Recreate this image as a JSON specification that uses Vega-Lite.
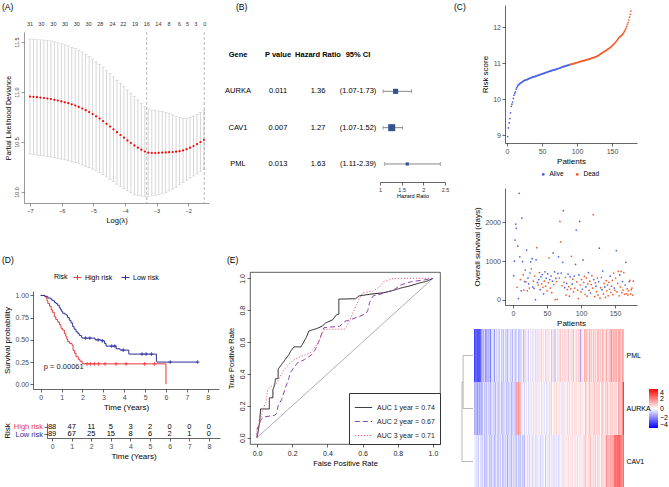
{
"$schema":"https://vega.github.io/schema/vega-lite/v6.json",
"background":"white",
"padding":{"left":2,"top":2,"right":0,"bottom":0},
"config":{
 "font":"Liberation Sans",
 "view":{"stroke":null},
 "title":{"fontSize":8.5,"fontWeight":"normal","anchor":"start","frame":"bounds","color":"black","font":"Liberation Sans"},
 "axis":{"grid":false,"domainColor":"black","domainWidth":0.6,"tickColor":"black","tickWidth":0.6,"tickSize":3,"labelColor":"#4d4d4d","labelFontSize":7,"titleFontSize":8,"titleFontWeight":"normal","titleColor":"black","labelPadding":1.5,"titlePadding":3,"labelFont":"Liberation Sans","titleFont":"Liberation Sans","labelOverlap":false},
 "legend":{"labelColor":"black","titleColor":"black","titleFontWeight":"normal","labelFont":"Liberation Sans","titleFont":"Liberation Sans"}
},
"datasets":{
"lasso":[
{"l":-7.00,"m":10.955,"lo":10.380,"hi":11.530},{"l":-6.89,"m":10.952,"lo":10.376,"hi":11.528},{"l":-6.78,"m":10.948,"lo":10.371,"hi":11.525},{"l":-6.67,"m":10.944,"lo":10.366,"hi":11.522},{"l":-6.56,"m":10.940,"lo":10.361,"hi":11.519},{"l":-6.45,"m":10.935,"lo":10.355,"hi":11.515},{"l":-6.34,"m":10.930,"lo":10.350,"hi":11.510},{"l":-6.23,"m":10.922,"lo":10.343,"hi":11.501},{"l":-6.12,"m":10.915,"lo":10.337,"hi":11.493},{"l":-6.01,"m":10.906,"lo":10.329,"hi":11.483},{"l":-5.90,"m":10.897,"lo":10.322,"hi":11.472},{"l":-5.79,"m":10.888,"lo":10.315,"hi":11.461},{"l":-5.68,"m":10.877,"lo":10.306,"hi":11.448},{"l":-5.57,"m":10.865,"lo":10.296,"hi":11.434},{"l":-5.46,"m":10.851,"lo":10.284,"hi":11.418},{"l":-5.35,"m":10.835,"lo":10.270,"hi":11.400},{"l":-5.24,"m":10.818,"lo":10.258,"hi":11.378},{"l":-5.13,"m":10.799,"lo":10.244,"hi":11.354},{"l":-5.02,"m":10.779,"lo":10.229,"hi":11.329},{"l":-4.91,"m":10.757,"lo":10.212,"hi":11.302},{"l":-4.80,"m":10.735,"lo":10.195,"hi":11.275},{"l":-4.69,"m":10.709,"lo":10.173,"hi":11.245},{"l":-4.58,"m":10.682,"lo":10.150,"hi":11.214},{"l":-4.47,"m":10.655,"lo":10.127,"hi":11.183},{"l":-4.36,"m":10.627,"lo":10.103,"hi":11.151},{"l":-4.25,"m":10.598,"lo":10.078,"hi":11.118},{"l":-4.14,"m":10.570,"lo":10.055,"hi":11.085},{"l":-4.03,"m":10.543,"lo":10.033,"hi":11.053},{"l":-3.92,"m":10.516,"lo":10.011,"hi":11.021},{"l":-3.81,"m":10.490,"lo":9.992,"hi":10.988},{"l":-3.70,"m":10.466,"lo":9.976,"hi":10.956},{"l":-3.59,"m":10.443,"lo":9.965,"hi":10.921},{"l":-3.48,"m":10.423,"lo":9.960,"hi":10.886},{"l":-3.37,"m":10.405,"lo":9.957,"hi":10.853},{"l":-3.26,"m":10.393,"lo":9.956,"hi":10.830},{"l":-3.15,"m":10.390,"lo":9.960,"hi":10.820},{"l":-3.04,"m":10.390,"lo":9.966,"hi":10.814},{"l":-2.93,"m":10.392,"lo":9.975,"hi":10.809},{"l":-2.82,"m":10.394,"lo":9.984,"hi":10.804},{"l":-2.71,"m":10.396,"lo":9.996,"hi":10.796},{"l":-2.60,"m":10.398,"lo":10.010,"hi":10.786},{"l":-2.49,"m":10.400,"lo":10.028,"hi":10.772},{"l":-2.38,"m":10.403,"lo":10.048,"hi":10.758},{"l":-2.27,"m":10.408,"lo":10.071,"hi":10.745},{"l":-2.16,"m":10.416,"lo":10.096,"hi":10.736},{"l":-2.05,"m":10.428,"lo":10.118,"hi":10.738},{"l":-1.94,"m":10.443,"lo":10.140,"hi":10.746},{"l":-1.83,"m":10.460,"lo":10.160,"hi":10.760},{"l":-1.72,"m":10.479,"lo":10.181,"hi":10.777},{"l":-1.61,"m":10.500,"lo":10.204,"hi":10.796},{"l":-1.50,"m":10.522,"lo":10.227,"hi":10.817}
],
"cnt":[
{"l":-7.00,"n":"31"},{"l":-6.64,"n":"30"},{"l":-6.26,"n":"30"},{"l":-5.89,"n":"30"},{"l":-5.52,"n":"30"},{"l":-5.15,"n":"30"},{"l":-4.78,"n":"28"},{"l":-4.39,"n":"24"},{"l":-4.05,"n":"22"},{"l":-3.68,"n":"19"},{"l":-3.31,"n":"16"},{"l":-2.94,"n":"14"},{"l":-2.60,"n":"8"},{"l":-2.28,"n":"6"},{"l":-2.02,"n":"5"},{"l":-1.76,"n":"3"},{"l":-1.47,"n":"0"}
],
"forest":[
{"Gene":"AURKA","P value":"0.011","Hazard Ratio":"1.36","95% CI":"(1.07-1.73)","hr":1.36,"lo":1.07,"hi":1.73,"w":66.5},
{"Gene":"CAV1","P value":"0.007","Hazard Ratio":"1.27","95% CI":"(1.07-1.52)","hr":1.27,"lo":1.07,"hi":1.52,"w":124.6},
{"Gene":"PML","P value":"0.013","Hazard Ratio":"1.63","95% CI":"(1.11-2.39)","hr":1.63,"lo":1.11,"hi":2.39,"w":26.1}
],
"km":[
{"g":"High risk","t":0,"S":1.0},{"g":"High risk","t":0.18,"S":0.99},{"g":"High risk","t":0.25,"S":0.97},{"g":"High risk","t":0.3,"S":0.94},{"g":"High risk","t":0.34,"S":0.91},{"g":"High risk","t":0.42,"S":0.88},{"g":"High risk","t":0.5,"S":0.84},{"g":"High risk","t":0.56,"S":0.81},{"g":"High risk","t":0.65,"S":0.76},{"g":"High risk","t":0.72,"S":0.73},{"g":"High risk","t":0.81,"S":0.7},{"g":"High risk","t":0.9,"S":0.67},{"g":"High risk","t":0.97,"S":0.63},{"g":"High risk","t":1.05,"S":0.61},{"g":"High risk","t":1.13,"S":0.57},{"g":"High risk","t":1.2,"S":0.54},{"g":"High risk","t":1.25,"S":0.51},{"g":"High risk","t":1.29,"S":0.48},{"g":"High risk","t":1.38,"S":0.46},{"g":"High risk","t":1.5,"S":0.44},{"g":"High risk","t":1.55,"S":0.38},{"g":"High risk","t":1.62,"S":0.35},{"g":"High risk","t":1.69,"S":0.31},{"g":"High risk","t":1.8,"S":0.28},{"g":"High risk","t":1.88,"S":0.26},{"g":"High risk","t":1.98,"S":0.24},{"g":"High risk","t":2.02,"S":0.23},{"g":"High risk","t":6.0,"S":0.0},
{"g":"Low risk","t":0,"S":1.0},{"g":"Low risk","t":0.2,"S":0.99},{"g":"Low risk","t":0.34,"S":0.97},{"g":"Low risk","t":0.5,"S":0.95},{"g":"Low risk","t":0.58,"S":0.94},{"g":"Low risk","t":0.66,"S":0.92},{"g":"Low risk","t":0.73,"S":0.91},{"g":"Low risk","t":0.8,"S":0.89},{"g":"Low risk","t":0.89,"S":0.86},{"g":"Low risk","t":0.95,"S":0.84},{"g":"Low risk","t":1.0,"S":0.82},{"g":"Low risk","t":1.05,"S":0.8},{"g":"Low risk","t":1.15,"S":0.79},{"g":"Low risk","t":1.21,"S":0.78},{"g":"Low risk","t":1.28,"S":0.75},{"g":"Low risk","t":1.37,"S":0.72},{"g":"Low risk","t":1.45,"S":0.69},{"g":"Low risk","t":1.53,"S":0.65},{"g":"Low risk","t":1.6,"S":0.62},{"g":"Low risk","t":1.69,"S":0.59},{"g":"Low risk","t":1.78,"S":0.57},{"g":"Low risk","t":1.85,"S":0.55},{"g":"Low risk","t":1.95,"S":0.53},{"g":"Low risk","t":1.98,"S":0.52},{"g":"Low risk","t":2.6,"S":0.5},{"g":"Low risk","t":2.9,"S":0.49},{"g":"Low risk","t":3.05,"S":0.46},{"g":"Low risk","t":3.13,"S":0.43},{"g":"Low risk","t":3.61,"S":0.4},{"g":"Low risk","t":3.8,"S":0.385},{"g":"Low risk","t":4.22,"S":0.34},{"g":"Low risk","t":5.54,"S":0.26},{"g":"Low risk","t":5.56,"S":0.25},{"g":"Low risk","t":7.52,"S":0.25}
],
"cens":[
{"g":"High risk","t":2.22,"S":0.23},{"g":"High risk","t":2.38,"S":0.23},{"g":"High risk","t":2.57,"S":0.23},{"g":"High risk","t":2.77,"S":0.23},{"g":"High risk","t":3.08,"S":0.23},{"g":"High risk","t":3.61,"S":0.23},{"g":"High risk","t":4.09,"S":0.23},{"g":"High risk","t":4.97,"S":0.23},{"g":"High risk","t":5.45,"S":0.23},
{"g":"Low risk","t":2.15,"S":0.52},{"g":"Low risk","t":2.35,"S":0.52},{"g":"Low risk","t":2.75,"S":0.5},{"g":"Low risk","t":2.95,"S":0.49},{"g":"Low risk","t":3.4,"S":0.43},{"g":"Low risk","t":3.55,"S":0.43},{"g":"Low risk","t":3.95,"S":0.385},{"g":"Low risk","t":4.85,"S":0.34},{"g":"Low risk","t":5.05,"S":0.34},{"g":"Low risk","t":5.3,"S":0.34},{"g":"Low risk","t":6.2,"S":0.25},{"g":"Low risk","t":7.52,"S":0.25}
],
"rtab":[
{"g":"High risk","t":0,"n":88},{"g":"High risk","t":1,"n":47},{"g":"High risk","t":2,"n":11},{"g":"High risk","t":3,"n":5},{"g":"High risk","t":4,"n":3},{"g":"High risk","t":5,"n":2},{"g":"High risk","t":6,"n":0},{"g":"High risk","t":7,"n":0},{"g":"High risk","t":8,"n":0},
{"g":"Low risk","t":0,"n":89},{"g":"Low risk","t":1,"n":67},{"g":"Low risk","t":2,"n":25},{"g":"Low risk","t":3,"n":15},{"g":"Low risk","t":4,"n":8},{"g":"Low risk","t":5,"n":6},{"g":"Low risk","t":6,"n":2},{"g":"Low risk","t":7,"n":1},{"g":"Low risk","t":8,"n":0}
],
"roc":[
{"c":"AUC 1 year = 0.74","fpr":0,"tpr":0},{"c":"AUC 1 year = 0.74","fpr":0.005,"tpr":0.03},{"c":"AUC 1 year = 0.74","fpr":0.015,"tpr":0.1},{"c":"AUC 1 year = 0.74","fpr":0.02,"tpr":0.18},{"c":"AUC 1 year = 0.74","fpr":0.07,"tpr":0.18},{"c":"AUC 1 year = 0.74","fpr":0.07,"tpr":0.25},{"c":"AUC 1 year = 0.74","fpr":0.09,"tpr":0.25},{"c":"AUC 1 year = 0.74","fpr":0.09,"tpr":0.3},{"c":"AUC 1 year = 0.74","fpr":0.1,"tpr":0.33},{"c":"AUC 1 year = 0.74","fpr":0.105,"tpr":0.37},{"c":"AUC 1 year = 0.74","fpr":0.12,"tpr":0.37},{"c":"AUC 1 year = 0.74","fpr":0.12,"tpr":0.43},{"c":"AUC 1 year = 0.74","fpr":0.14,"tpr":0.46},{"c":"AUC 1 year = 0.74","fpr":0.16,"tpr":0.49},{"c":"AUC 1 year = 0.74","fpr":0.18,"tpr":0.52},{"c":"AUC 1 year = 0.74","fpr":0.19,"tpr":0.54},{"c":"AUC 1 year = 0.74","fpr":0.21,"tpr":0.57},{"c":"AUC 1 year = 0.74","fpr":0.25,"tpr":0.57},{"c":"AUC 1 year = 0.74","fpr":0.265,"tpr":0.6},{"c":"AUC 1 year = 0.74","fpr":0.28,"tpr":0.63},{"c":"AUC 1 year = 0.74","fpr":0.295,"tpr":0.67},{"c":"AUC 1 year = 0.74","fpr":0.34,"tpr":0.685},{"c":"AUC 1 year = 0.74","fpr":0.37,"tpr":0.7},{"c":"AUC 1 year = 0.74","fpr":0.39,"tpr":0.72},{"c":"AUC 1 year = 0.74","fpr":0.43,"tpr":0.74},{"c":"AUC 1 year = 0.74","fpr":0.45,"tpr":0.77},{"c":"AUC 1 year = 0.74","fpr":0.465,"tpr":0.775},{"c":"AUC 1 year = 0.74","fpr":0.465,"tpr":0.87},{"c":"AUC 1 year = 0.74","fpr":0.56,"tpr":0.872},{"c":"AUC 1 year = 0.74","fpr":0.58,"tpr":0.89},{"c":"AUC 1 year = 0.74","fpr":0.64,"tpr":0.9},{"c":"AUC 1 year = 0.74","fpr":0.72,"tpr":0.91},{"c":"AUC 1 year = 0.74","fpr":0.76,"tpr":0.92},{"c":"AUC 1 year = 0.74","fpr":0.82,"tpr":0.94},{"c":"AUC 1 year = 0.74","fpr":0.86,"tpr":0.95},{"c":"AUC 1 year = 0.74","fpr":0.92,"tpr":0.97},{"c":"AUC 1 year = 0.74","fpr":0.96,"tpr":0.98},{"c":"AUC 1 year = 0.74","fpr":1,"tpr":1},
{"c":"AUC 2 year = 0.67","fpr":0,"tpr":0},{"c":"AUC 2 year = 0.67","fpr":0,"tpr":0.05},{"c":"AUC 2 year = 0.67","fpr":0.01,"tpr":0.08},{"c":"AUC 2 year = 0.67","fpr":0.02,"tpr":0.11},{"c":"AUC 2 year = 0.67","fpr":0.04,"tpr":0.13},{"c":"AUC 2 year = 0.67","fpr":0.1,"tpr":0.14},{"c":"AUC 2 year = 0.67","fpr":0.11,"tpr":0.15},{"c":"AUC 2 year = 0.67","fpr":0.12,"tpr":0.2},{"c":"AUC 2 year = 0.67","fpr":0.14,"tpr":0.24},{"c":"AUC 2 year = 0.67","fpr":0.16,"tpr":0.31},{"c":"AUC 2 year = 0.67","fpr":0.18,"tpr":0.37},{"c":"AUC 2 year = 0.67","fpr":0.19,"tpr":0.41},{"c":"AUC 2 year = 0.67","fpr":0.21,"tpr":0.44},{"c":"AUC 2 year = 0.67","fpr":0.23,"tpr":0.47},{"c":"AUC 2 year = 0.67","fpr":0.27,"tpr":0.49},{"c":"AUC 2 year = 0.67","fpr":0.31,"tpr":0.52},{"c":"AUC 2 year = 0.67","fpr":0.33,"tpr":0.55},{"c":"AUC 2 year = 0.67","fpr":0.35,"tpr":0.6},{"c":"AUC 2 year = 0.67","fpr":0.37,"tpr":0.66},{"c":"AUC 2 year = 0.67","fpr":0.38,"tpr":0.69},{"c":"AUC 2 year = 0.67","fpr":0.47,"tpr":0.7},{"c":"AUC 2 year = 0.67","fpr":0.5,"tpr":0.73},{"c":"AUC 2 year = 0.67","fpr":0.53,"tpr":0.74},{"c":"AUC 2 year = 0.67","fpr":0.58,"tpr":0.76},{"c":"AUC 2 year = 0.67","fpr":0.62,"tpr":0.78},{"c":"AUC 2 year = 0.67","fpr":0.63,"tpr":0.8},{"c":"AUC 2 year = 0.67","fpr":0.64,"tpr":0.85},{"c":"AUC 2 year = 0.67","fpr":0.66,"tpr":0.89},{"c":"AUC 2 year = 0.67","fpr":0.7,"tpr":0.9},{"c":"AUC 2 year = 0.67","fpr":0.78,"tpr":0.93},{"c":"AUC 2 year = 0.67","fpr":0.82,"tpr":0.96},{"c":"AUC 2 year = 0.67","fpr":0.88,"tpr":0.98},{"c":"AUC 2 year = 0.67","fpr":0.95,"tpr":0.99},{"c":"AUC 2 year = 0.67","fpr":1,"tpr":1},
{"c":"AUC 3 year = 0.71","fpr":0,"tpr":0},{"c":"AUC 3 year = 0.71","fpr":0,"tpr":0.06},{"c":"AUC 3 year = 0.71","fpr":0.02,"tpr":0.1},{"c":"AUC 3 year = 0.71","fpr":0.03,"tpr":0.17},{"c":"AUC 3 year = 0.71","fpr":0.05,"tpr":0.22},{"c":"AUC 3 year = 0.71","fpr":0.06,"tpr":0.3},{"c":"AUC 3 year = 0.71","fpr":0.08,"tpr":0.32},{"c":"AUC 3 year = 0.71","fpr":0.11,"tpr":0.34},{"c":"AUC 3 year = 0.71","fpr":0.13,"tpr":0.38},{"c":"AUC 3 year = 0.71","fpr":0.15,"tpr":0.42},{"c":"AUC 3 year = 0.71","fpr":0.18,"tpr":0.46},{"c":"AUC 3 year = 0.71","fpr":0.21,"tpr":0.49},{"c":"AUC 3 year = 0.71","fpr":0.25,"tpr":0.51},{"c":"AUC 3 year = 0.71","fpr":0.3,"tpr":0.53},{"c":"AUC 3 year = 0.71","fpr":0.33,"tpr":0.57},{"c":"AUC 3 year = 0.71","fpr":0.35,"tpr":0.6},{"c":"AUC 3 year = 0.71","fpr":0.37,"tpr":0.65},{"c":"AUC 3 year = 0.71","fpr":0.38,"tpr":0.68},{"c":"AUC 3 year = 0.71","fpr":0.5,"tpr":0.681},{"c":"AUC 3 year = 0.71","fpr":0.52,"tpr":0.72},{"c":"AUC 3 year = 0.71","fpr":0.54,"tpr":0.77},{"c":"AUC 3 year = 0.71","fpr":0.56,"tpr":0.82},{"c":"AUC 3 year = 0.71","fpr":0.58,"tpr":0.87},{"c":"AUC 3 year = 0.71","fpr":0.6,"tpr":0.91},{"c":"AUC 3 year = 0.71","fpr":0.66,"tpr":0.92},{"c":"AUC 3 year = 0.71","fpr":0.7,"tpr":0.95},{"c":"AUC 3 year = 0.71","fpr":0.72,"tpr":0.98},{"c":"AUC 3 year = 0.71","fpr":0.78,"tpr":1},{"c":"AUC 3 year = 0.71","fpr":1,"tpr":1.001}
],
"dend":[
{"a":0,"b":0.9,"c":0.5,"d":0.5},{"a":0,"b":0.9,"c":1.5,"d":1.5},{"a":0.9,"b":0.9,"c":0.5,"d":1.5},{"a":0.9,"b":1,"c":1,"d":1},{"a":0,"b":1,"c":2.5,"d":2.5},{"a":1,"b":1,"c":1,"d":2.5}
],
"pt":[
{"i":1,"r":8.96,"k":"L","t":620,"s":"Alive","PML":-3.5,"AURKA":-1.5,"CAV1":-0.1},
{"i":2,"r":9.2,"k":"L","t":1000,"s":"Alive","PML":-3.0,"AURKA":-1.0,"CAV1":-0.7},
{"i":3,"r":9.34,"k":"L","t":1540,"s":"Alive","PML":-3.4,"AURKA":-1.9,"CAV1":0.1},
{"i":4,"r":9.46,"k":"L","t":1955,"s":"Alive","PML":-3.1,"AURKA":-1.4,"CAV1":-1.0},
{"i":5,"r":9.62,"k":"L","t":1845,"s":"Alive","PML":-3.7,"AURKA":-2.2,"CAV1":-0.4},
{"i":6,"r":9.8,"k":"L","t":320,"s":"Dead","PML":-3.3,"AURKA":-1.1,"CAV1":-1.1},
{"i":7,"r":9.86,"k":"L","t":1386,"s":"Alive","PML":-3.0,"AURKA":-1.7,"CAV1":0.0},
{"i":8,"r":9.92,"k":"L","t":30,"s":"Alive","PML":-3.5,"AURKA":-0.9,"CAV1":-0.8},
{"i":9,"r":10.02,"k":"L","t":2750,"s":"Alive","PML":-1.4,"AURKA":-2.0,"CAV1":-0.2},
{"i":10,"r":10.11,"k":"L","t":1109,"s":"Alive","PML":-2.3,"AURKA":-1.4,"CAV1":-1.3},
{"i":11,"r":10.16,"k":"L","t":520,"s":"Dead","PML":-1.0,"AURKA":-1.4,"CAV1":-0.8},
{"i":12,"r":10.2,"k":"L","t":230,"s":"Alive","PML":-1.7,"AURKA":-0.3,"CAV1":-0.3},
{"i":13,"r":10.28,"k":"L","t":2110,"s":"Alive","PML":-0.7,"AURKA":-1.1,"CAV1":-1.2},
{"i":14,"r":10.32,"k":"L","t":983,"s":"Alive","PML":-2.1,"AURKA":-0.5,"CAV1":-0.7},
{"i":15,"r":10.36,"k":"L","t":640,"s":"Dead","PML":-1.3,"AURKA":-1.6,"CAV1":-1.5},
{"i":16,"r":10.39,"k":"L","t":250,"s":"Dead","PML":-2.2,"AURKA":-0.8,"CAV1":-0.4},
{"i":17,"r":10.41,"k":"L","t":470,"s":"Alive","PML":-0.8,"AURKA":-0.3,"CAV1":-1.0},
{"i":18,"r":10.43,"k":"L","t":767,"s":"Alive","PML":-1.8,"AURKA":-1.2,"CAV1":-0.2},
{"i":19,"r":10.44,"k":"L","t":460,"s":"Dead","PML":-1.1,"AURKA":-0.7,"CAV1":-1.3},
{"i":20,"r":10.46,"k":"L","t":1282,"s":"Alive","PML":-2.5,"AURKA":-1.5,"CAV1":-0.7},
{"i":21,"r":10.47,"k":"L","t":230,"s":"Dead","PML":-0.7,"AURKA":-0.4,"CAV1":-1.4},
{"i":22,"r":10.48,"k":"L","t":560,"s":"Alive","PML":-0.1,"AURKA":-1.0,"CAV1":-0.3},
{"i":23,"r":10.5,"k":"L","t":410,"s":"Alive","PML":-1.2,"AURKA":-0.2,"CAV1":-1.1},
{"i":24,"r":10.51,"k":"L","t":300,"s":"Dead","PML":-0.6,"AURKA":-1.3,"CAV1":-0.5},
{"i":25,"r":10.52,"k":"L","t":690,"s":"Alive","PML":-2.4,"AURKA":-0.7,"CAV1":-1.6},
{"i":26,"r":10.53,"k":"L","t":980,"s":"Alive","PML":-0.2,"AURKA":-1.4,"CAV1":-0.8},
{"i":27,"r":10.53,"k":"L","t":800,"s":"Dead","PML":-0.9,"AURKA":-0.3,"CAV1":-0.3},
{"i":28,"r":10.54,"k":"L","t":1060,"s":"Alive","PML":0.1,"AURKA":-1.1,"CAV1":-1.2},
{"i":29,"r":10.55,"k":"L","t":330,"s":"Alive","PML":-1.3,"AURKA":-0.5,"CAV1":-0.7},
{"i":30,"r":10.56,"k":"L","t":480,"s":"Dead","PML":-0.5,"AURKA":-1.6,"CAV1":-1.5},
{"i":31,"r":10.57,"k":"L","t":290,"s":"Alive","PML":-1.4,"AURKA":-0.8,"CAV1":-0.4},
{"i":32,"r":10.58,"k":"L","t":610,"s":"Dead","PML":0.0,"AURKA":-0.3,"CAV1":-1.0},
{"i":33,"r":10.58,"k":"L","t":0,"s":"Alive","PML":-1.0,"AURKA":-1.2,"CAV1":-0.2},
{"i":34,"r":10.59,"k":"L","t":1030,"s":"Alive","PML":-0.3,"AURKA":-0.7,"CAV1":-1.3},
{"i":35,"r":10.6,"k":"L","t":1345,"s":"Dead","PML":-1.7,"AURKA":-1.5,"CAV1":-0.7},
{"i":36,"r":10.61,"k":"L","t":440,"s":"Alive","PML":-0.7,"AURKA":-0.4,"CAV1":-1.4},
{"i":37,"r":10.61,"k":"L","t":380,"s":"Dead","PML":-0.1,"AURKA":-1.0,"CAV1":-0.3},
{"i":38,"r":10.62,"k":"L","t":520,"s":"Alive","PML":-1.2,"AURKA":-0.2,"CAV1":-1.1},
{"i":39,"r":10.63,"k":"L","t":700,"s":"Dead","PML":-0.6,"AURKA":-1.3,"CAV1":-0.5},
{"i":40,"r":10.63,"k":"L","t":260,"s":"Alive","PML":-1.5,"AURKA":-0.7,"CAV1":-1.6},
{"i":41,"r":10.64,"k":"L","t":590,"s":"Alive","PML":-0.2,"AURKA":-1.4,"CAV1":-0.8},
{"i":42,"r":10.65,"k":"L","t":410,"s":"Dead","PML":-0.9,"AURKA":-0.3,"CAV1":-0.3},
{"i":43,"r":10.65,"k":"L","t":650,"s":"Alive","PML":0.1,"AURKA":-1.1,"CAV1":-1.2},
{"i":44,"r":10.66,"k":"L","t":320,"s":"Dead","PML":-1.3,"AURKA":-0.5,"CAV1":-0.7},
{"i":45,"r":10.67,"k":"L","t":150,"s":"Alive","PML":-0.5,"AURKA":-1.6,"CAV1":-1.5},
{"i":46,"r":10.67,"k":"L","t":480,"s":"Dead","PML":-1.4,"AURKA":-0.8,"CAV1":-0.4},
{"i":47,"r":10.68,"k":"L","t":720,"s":"Alive","PML":0.0,"AURKA":-0.3,"CAV1":-1.0},
{"i":48,"r":10.69,"k":"L","t":350,"s":"Dead","PML":-1.0,"AURKA":-1.2,"CAV1":-0.2},
{"i":49,"r":10.7,"k":"L","t":560,"s":"Alive","PML":-0.3,"AURKA":-0.7,"CAV1":-1.3},
{"i":50,"r":10.7,"k":"L","t":230,"s":"Dead","PML":-1.7,"AURKA":-1.5,"CAV1":-0.7},
{"i":51,"r":10.71,"k":"L","t":670,"s":"Alive","PML":-0.7,"AURKA":2.0,"CAV1":-1.4},
{"i":52,"r":10.72,"k":"L","t":440,"s":"Dead","PML":-0.1,"AURKA":1.4,"CAV1":-0.3},
{"i":53,"r":10.72,"k":"L","t":1077,"s":"Dead","PML":-1.2,"AURKA":2.2,"CAV1":-1.1},
{"i":54,"r":10.73,"k":"L","t":520,"s":"Alive","PML":-0.6,"AURKA":1.1,"CAV1":-0.5},
{"i":55,"r":10.74,"k":"L","t":300,"s":"Dead","PML":-1.5,"AURKA":1.7,"CAV1":-1.6},
{"i":56,"r":10.74,"k":"L","t":610,"s":"Alive","PML":-0.2,"AURKA":1.0,"CAV1":-0.8},
{"i":57,"r":10.75,"k":"L","t":180,"s":"Dead","PML":-0.9,"AURKA":0.4,"CAV1":-0.3},
{"i":58,"r":10.76,"k":"L","t":480,"s":"Alive","PML":0.1,"AURKA":-0.4,"CAV1":-1.2},
{"i":59,"r":10.76,"k":"L","t":1210,"s":"Alive","PML":-1.3,"AURKA":0.2,"CAV1":-0.7},
{"i":60,"r":10.77,"k":"L","t":390,"s":"Dead","PML":-0.5,"AURKA":-0.9,"CAV1":-1.5},
{"i":61,"r":10.78,"k":"L","t":720,"s":"Alive","PML":-0.7,"AURKA":-0.1,"CAV1":0.1},
{"i":62,"r":10.78,"k":"L","t":0,"s":"Dead","PML":0.7,"AURKA":0.4,"CAV1":-0.5},
{"i":63,"r":10.79,"k":"L","t":550,"s":"Alive","PML":-0.3,"AURKA":-0.5,"CAV1":0.3},
{"i":64,"r":10.8,"k":"L","t":470,"s":"Dead","PML":0.4,"AURKA":0.0,"CAV1":-0.8},
{"i":65,"r":10.8,"k":"L","t":10,"s":"Dead","PML":-1.0,"AURKA":-0.8,"CAV1":-0.2},
{"i":66,"r":10.81,"k":"L","t":680,"s":"Alive","PML":0.0,"AURKA":0.3,"CAV1":-0.9},
{"i":67,"r":10.81,"k":"L","t":1109,"s":"Alive","PML":0.6,"AURKA":-0.3,"CAV1":0.2},
{"i":68,"r":10.82,"k":"L","t":560,"s":"Dead","PML":-0.5,"AURKA":0.5,"CAV1":-0.6},
{"i":69,"r":10.82,"k":"L","t":2024,"s":"Dead","PML":0.1,"AURKA":-0.6,"CAV1":0.0},
{"i":70,"r":10.83,"k":"L","t":1494,"s":"Dead","PML":-0.8,"AURKA":0.0,"CAV1":-1.1},
{"i":71,"r":10.84,"k":"L","t":690,"s":"Alive","PML":0.5,"AURKA":-0.7,"CAV1":-0.3},
{"i":72,"r":10.84,"k":"L","t":360,"s":"Dead","PML":-0.2,"AURKA":0.4,"CAV1":0.2},
{"i":73,"r":10.85,"k":"L","t":966,"s":"Alive","PML":0.8,"AURKA":-0.4,"CAV1":-0.7},
{"i":74,"r":10.86,"k":"L","t":2300,"s":"Alive","PML":-0.6,"AURKA":0.2,"CAV1":-0.2},
{"i":75,"r":10.86,"k":"L","t":450,"s":"Dead","PML":0.2,"AURKA":-0.9,"CAV1":-1.0},
{"i":76,"r":10.87,"k":"L","t":310,"s":"Alive","PML":-0.7,"AURKA":-0.1,"CAV1":0.1},
{"i":77,"r":10.88,"k":"L","t":580,"s":"Dead","PML":0.7,"AURKA":0.4,"CAV1":-0.5},
{"i":78,"r":10.89,"k":"L","t":120,"s":"Dead","PML":-0.3,"AURKA":-0.5,"CAV1":0.3},
{"i":79,"r":10.89,"k":"L","t":420,"s":"Alive","PML":0.4,"AURKA":0.0,"CAV1":-0.8},
{"i":80,"r":10.9,"k":"L","t":260,"s":"Dead","PML":-1.0,"AURKA":-0.8,"CAV1":-0.2},
{"i":81,"r":10.91,"k":"L","t":660,"s":"Alive","PML":0.0,"AURKA":0.3,"CAV1":-0.9},
{"i":82,"r":10.91,"k":"L","t":340,"s":"Dead","PML":0.6,"AURKA":-0.3,"CAV1":0.2},
{"i":83,"r":10.92,"k":"L","t":90,"s":"Dead","PML":-0.5,"AURKA":0.5,"CAV1":-0.6},
{"i":84,"r":10.92,"k":"L","t":590,"s":"Alive","PML":0.1,"AURKA":-0.6,"CAV1":0.0},
{"i":85,"r":10.93,"k":"L","t":280,"s":"Dead","PML":-0.8,"AURKA":0.0,"CAV1":-1.1},
{"i":86,"r":10.94,"k":"L","t":1120,"s":"Dead","PML":0.5,"AURKA":-0.7,"CAV1":-0.3},
{"i":87,"r":10.94,"k":"L","t":400,"s":"Alive","PML":-0.2,"AURKA":0.4,"CAV1":0.2},
{"i":88,"r":10.95,"k":"L","t":530,"s":"Dead","PML":0.8,"AURKA":-0.4,"CAV1":-0.7},
{"i":89,"r":10.96,"k":"L","t":200,"s":"Dead","PML":-0.6,"AURKA":0.2,"CAV1":-0.2},
{"i":90,"r":10.96,"k":"H","t":610,"s":"Alive","PML":0.2,"AURKA":-0.9,"CAV1":-1.0},
{"i":91,"r":10.97,"k":"H","t":300,"s":"Dead","PML":-0.1,"AURKA":0.4,"CAV1":0.1},
{"i":92,"r":10.97,"k":"H","t":912,"s":"Alive","PML":1.3,"AURKA":0.9,"CAV1":-0.5},
{"i":93,"r":10.98,"k":"H","t":1800,"s":"Alive","PML":0.3,"AURKA":0.0,"CAV1":0.3},
{"i":94,"r":10.98,"k":"H","t":460,"s":"Dead","PML":1.0,"AURKA":0.5,"CAV1":-0.8},
{"i":95,"r":10.99,"k":"H","t":250,"s":"Dead","PML":-0.4,"AURKA":-0.3,"CAV1":-0.2},
{"i":96,"r":10.99,"k":"H","t":30,"s":"Dead","PML":-1.2,"AURKA":0.8,"CAV1":-0.9},
{"i":97,"r":11.0,"k":"H","t":640,"s":"Alive","PML":1.2,"AURKA":0.2,"CAV1":0.2},
{"i":98,"r":11.01,"k":"H","t":2024,"s":"Alive","PML":0.1,"AURKA":1.0,"CAV1":-0.6},
{"i":99,"r":11.01,"k":"H","t":380,"s":"Dead","PML":0.7,"AURKA":-0.1,"CAV1":0.0},
{"i":100,"r":11.02,"k":"H","t":200,"s":"Dead","PML":-0.2,"AURKA":0.5,"CAV1":-1.1},
{"i":101,"r":11.02,"k":"H","t":520,"s":"Dead","PML":1.1,"AURKA":-0.2,"CAV1":0.3},
{"i":102,"r":11.03,"k":"H","t":270,"s":"Alive","PML":0.4,"AURKA":0.9,"CAV1":0.8},
{"i":103,"r":11.04,"k":"H","t":1024,"s":"Alive","PML":1.4,"AURKA":0.1,"CAV1":-0.1},
{"i":104,"r":11.04,"k":"H","t":450,"s":"Dead","PML":0.0,"AURKA":0.7,"CAV1":0.4},
{"i":105,"r":11.05,"k":"H","t":600,"s":"Dead","PML":0.8,"AURKA":-0.4,"CAV1":-0.4},
{"i":106,"r":11.05,"k":"H","t":140,"s":"Dead","PML":-0.1,"AURKA":0.4,"CAV1":0.7},
{"i":107,"r":11.06,"k":"H","t":330,"s":"Alive","PML":1.3,"AURKA":0.9,"CAV1":0.1},
{"i":108,"r":11.06,"k":"H","t":560,"s":"Dead","PML":0.3,"AURKA":0.0,"CAV1":0.9},
{"i":109,"r":11.07,"k":"H","t":90,"s":"Dead","PML":1.0,"AURKA":0.5,"CAV1":-0.2},
{"i":110,"r":11.07,"k":"H","t":410,"s":"Dead","PML":-0.4,"AURKA":-0.3,"CAV1":0.4},
{"i":111,"r":11.08,"k":"H","t":700,"s":"Alive","PML":0.6,"AURKA":0.8,"CAV1":-0.3},
{"i":112,"r":11.08,"k":"H","t":240,"s":"Dead","PML":1.2,"AURKA":0.2,"CAV1":0.8},
{"i":113,"r":11.09,"k":"H","t":480,"s":"Dead","PML":0.1,"AURKA":1.0,"CAV1":0.0},
{"i":114,"r":11.1,"k":"H","t":170,"s":"Alive","PML":0.7,"AURKA":-0.1,"CAV1":0.6},
{"i":115,"r":11.1,"k":"H","t":390,"s":"Dead","PML":-0.2,"AURKA":0.5,"CAV1":-0.5},
{"i":116,"r":11.11,"k":"H","t":620,"s":"Dead","PML":1.1,"AURKA":-0.2,"CAV1":0.3},
{"i":117,"r":11.11,"k":"H","t":300,"s":"Dead","PML":0.4,"AURKA":0.9,"CAV1":0.8},
{"i":118,"r":11.12,"k":"H","t":2196,"s":"Dead","PML":1.4,"AURKA":0.1,"CAV1":-0.1},
{"i":119,"r":11.13,"k":"H","t":520,"s":"Alive","PML":0.0,"AURKA":0.7,"CAV1":0.4},
{"i":120,"r":11.13,"k":"H","t":80,"s":"Dead","PML":0.8,"AURKA":-0.4,"CAV1":-0.4},
{"i":121,"r":11.14,"k":"H","t":440,"s":"Dead","PML":-0.1,"AURKA":0.4,"CAV1":0.7},
{"i":122,"r":11.15,"k":"H","t":350,"s":"Alive","PML":1.3,"AURKA":0.9,"CAV1":0.1},
{"i":123,"r":11.15,"k":"H","t":210,"s":"Dead","PML":0.3,"AURKA":0.0,"CAV1":0.9},
{"i":124,"r":11.16,"k":"H","t":560,"s":"Dead","PML":1.0,"AURKA":0.5,"CAV1":-0.2},
{"i":125,"r":11.16,"k":"H","t":120,"s":"Dead","PML":-0.4,"AURKA":-0.3,"CAV1":0.4},
{"i":126,"r":11.17,"k":"H","t":470,"s":"Alive","PML":-2.0,"AURKA":0.8,"CAV1":-0.3},
{"i":127,"r":11.18,"k":"H","t":1331,"s":"Alive","PML":1.2,"AURKA":0.2,"CAV1":0.8},
{"i":128,"r":11.19,"k":"H","t":40,"s":"Dead","PML":0.1,"AURKA":1.0,"CAV1":0.0},
{"i":129,"r":11.2,"k":"H","t":310,"s":"Dead","PML":0.7,"AURKA":-0.1,"CAV1":0.6},
{"i":130,"r":11.21,"k":"H","t":580,"s":"Dead","PML":-0.2,"AURKA":0.5,"CAV1":-0.5},
{"i":131,"r":11.22,"k":"H","t":260,"s":"Alive","PML":1.5,"AURKA":0.2,"CAV1":0.7},
{"i":132,"r":11.23,"k":"H","t":740,"s":"Alive","PML":0.8,"AURKA":1.3,"CAV1":1.2},
{"i":133,"r":11.25,"k":"H","t":150,"s":"Dead","PML":1.8,"AURKA":0.5,"CAV1":0.3},
{"i":134,"r":11.26,"k":"H","t":420,"s":"Dead","PML":0.4,"AURKA":1.1,"CAV1":0.8},
{"i":135,"r":11.28,"k":"H","t":330,"s":"Alive","PML":1.2,"AURKA":0.0,"CAV1":0.0},
{"i":136,"r":11.29,"k":"H","t":60,"s":"Dead","PML":0.3,"AURKA":0.8,"CAV1":1.1},
{"i":137,"r":11.3,"k":"H","t":490,"s":"Dead","PML":1.7,"AURKA":1.3,"CAV1":0.5},
{"i":138,"r":11.31,"k":"H","t":230,"s":"Dead","PML":0.7,"AURKA":0.4,"CAV1":1.3},
{"i":139,"r":11.33,"k":"H","t":380,"s":"Alive","PML":1.4,"AURKA":0.9,"CAV1":0.2},
{"i":140,"r":11.34,"k":"H","t":100,"s":"Dead","PML":0.0,"AURKA":0.1,"CAV1":0.8},
{"i":141,"r":11.35,"k":"H","t":450,"s":"Dead","PML":1.0,"AURKA":1.2,"CAV1":0.1},
{"i":142,"r":11.36,"k":"H","t":270,"s":"Dead","PML":1.6,"AURKA":0.6,"CAV1":1.2},
{"i":143,"r":11.38,"k":"H","t":610,"s":"Alive","PML":0.5,"AURKA":1.4,"CAV1":0.4},
{"i":144,"r":11.39,"k":"H","t":190,"s":"Dead","PML":1.1,"AURKA":0.3,"CAV1":1.0},
{"i":145,"r":11.4,"k":"H","t":350,"s":"Dead","PML":0.2,"AURKA":0.9,"CAV1":-0.1},
{"i":146,"r":11.42,"k":"H","t":500,"s":"Dead","PML":1.5,"AURKA":0.2,"CAV1":0.7},
{"i":147,"r":11.43,"k":"H","t":130,"s":"Dead","PML":0.8,"AURKA":1.3,"CAV1":1.2},
{"i":148,"r":11.45,"k":"H","t":690,"s":"Dead","PML":1.8,"AURKA":0.5,"CAV1":0.3},
{"i":149,"r":11.46,"k":"H","t":300,"s":"Alive","PML":0.4,"AURKA":1.1,"CAV1":0.8},
{"i":150,"r":11.48,"k":"H","t":240,"s":"Dead","PML":1.2,"AURKA":0.0,"CAV1":0.0},
{"i":151,"r":11.5,"k":"H","t":560,"s":"Dead","PML":0.3,"AURKA":0.8,"CAV1":1.1},
{"i":152,"r":11.52,"k":"H","t":1270,"s":"Alive","PML":1.7,"AURKA":1.3,"CAV1":0.5},
{"i":153,"r":11.54,"k":"H","t":200,"s":"Dead","PML":0.7,"AURKA":0.4,"CAV1":1.3},
{"i":154,"r":11.56,"k":"H","t":420,"s":"Dead","PML":1.4,"AURKA":0.9,"CAV1":0.2},
{"i":155,"r":11.58,"k":"H","t":730,"s":"Dead","PML":0.0,"AURKA":0.1,"CAV1":0.8},
{"i":156,"r":11.61,"k":"H","t":100,"s":"Dead","PML":1.0,"AURKA":1.2,"CAV1":1.0},
{"i":157,"r":11.63,"k":"H","t":640,"s":"Alive","PML":1.6,"AURKA":0.6,"CAV1":2.1},
{"i":158,"r":11.66,"k":"H","t":330,"s":"Dead","PML":0.5,"AURKA":1.4,"CAV1":1.3},
{"i":159,"r":11.69,"k":"H","t":730,"s":"Dead","PML":1.1,"AURKA":0.3,"CAV1":1.9},
{"i":160,"r":11.71,"k":"H","t":180,"s":"Dead","PML":0.2,"AURKA":0.9,"CAV1":0.8},
{"i":161,"r":11.73,"k":"H","t":470,"s":"Alive","PML":2.0,"AURKA":0.2,"CAV1":1.6},
{"i":162,"r":11.75,"k":"H","t":250,"s":"Dead","PML":1.3,"AURKA":1.3,"CAV1":2.1},
{"i":163,"r":11.76,"k":"H","t":700,"s":"Dead","PML":2.3,"AURKA":0.5,"CAV1":1.2},
{"i":164,"r":11.78,"k":"H","t":140,"s":"Dead","PML":0.9,"AURKA":1.1,"CAV1":1.7},
{"i":165,"r":11.8,"k":"H","t":380,"s":"Alive","PML":1.7,"AURKA":0.0,"CAV1":0.9},
{"i":166,"r":11.83,"k":"H","t":966,"s":"Alive","PML":0.8,"AURKA":0.8,"CAV1":3.0},
{"i":167,"r":11.86,"k":"H","t":160,"s":"Dead","PML":2.2,"AURKA":1.3,"CAV1":2.8},
{"i":168,"r":11.89,"k":"H","t":280,"s":"Dead","PML":1.2,"AURKA":0.4,"CAV1":3.2},
{"i":169,"r":11.93,"k":"H","t":120,"s":"Dead","PML":1.9,"AURKA":0.9,"CAV1":2.6},
{"i":170,"r":11.97,"k":"H","t":230,"s":"Dead","PML":0.5,"AURKA":0.1,"CAV1":2.9},
{"i":171,"r":12.02,"k":"H","t":470,"s":"Alive","PML":1.5,"AURKA":1.7,"CAV1":2.6},
{"i":172,"r":12.08,"k":"H","t":500,"s":"Dead","PML":2.1,"AURKA":1.1,"CAV1":3.1},
{"i":173,"r":12.13,"k":"H","t":150,"s":"Dead","PML":1.0,"AURKA":1.9,"CAV1":2.7},
{"i":174,"r":12.2,"k":"H","t":260,"s":"Dead","PML":1.6,"AURKA":0.8,"CAV1":3.0},
{"i":175,"r":12.28,"k":"H","t":300,"s":"Dead","PML":0.7,"AURKA":1.4,"CAV1":2.4},
{"i":176,"r":12.36,"k":"H","t":120,"s":"Dead","PML":2.0,"AURKA":2.5,"CAV1":2.1},
{"i":177,"r":12.45,"k":"H","t":480,"s":"Dead","PML":1.3,"AURKA":3.5,"CAV1":2.6}
]
},
"spacing":5,
"resolve":{"scale":{"color":"independent","size":"independent","strokeDash":"independent"},"legend":{"color":"independent","size":"independent","strokeDash":"independent"}},
"concat":[
 {
  "columns":1,"spacing":31,
  "resolve":{"scale":{"color":"independent","size":"independent","strokeDash":"independent"},"legend":{"color":"independent","size":"independent","strokeDash":"independent"}},
  "concat":[
   {
    "columns":1,"spacing":11,
    "resolve":{"scale":{"size":"independent"},"legend":{"size":"independent"}},
    "concat":[
     {
      "spacing":222,
      "concat":[
       {"width":1,"height":1,"data":{"values":[]},"mark":"point","title":{"text":"(A)","offset":0,"dy":6}},
       {"width":1,"height":1,"data":{"values":[]},"mark":"point","title":{"text":"(B)","offset":0,"dy":6}}
      ]
     },
     {
      "spacing":1,
      "resolve":{"scale":{"size":"independent"},"legend":{"size":"independent"}},
      "concat":[
       {"width":1,"height":1,"data":{"values":[]},"mark":"point"},
       {
        "spacing":16,
        "resolve":{"scale":{"size":"independent"},"legend":{"size":"independent"}},
        "concat":[
         {
          "width":185,"height":171,
          "layer":[
           {"data":{"name":"lasso"},"mark":{"type":"rule","color":"#c4c4c4","strokeWidth":0.7},
            "encoding":{
             "x":{"field":"l","type":"quantitative","title":"Log(λ)","scale":{"domain":[-7.19,-1.34],"nice":false,"zero":false},"axis":{"values":[-7,-6,-5,-4,-3,-2],"tickCount":20,"format":"d","labelFontSize":5.5,"labelColor":"#333","titleFontSize":7.5,"domainColor":"#555","tickColor":"#555","labelPadding":2}},
             "y":{"field":"lo","type":"quantitative","title":"Partial Likelihood Deviance","scale":{"domain":[9.89,11.6],"nice":false,"zero":false},"axis":{"values":[10,10.5,11,11.5],"tickCount":20,"format":".1f","labelAngle":270,"labelAlign":"center","labelBaseline":"bottom","labelFontSize":5.5,"labelColor":"#333","titleFontSize":7,"domainColor":"#555","tickColor":"#555","labelPadding":2}},
             "y2":{"field":"hi"}}},
           {"data":{"name":"lasso"},"mark":{"type":"tick","orient":"horizontal","size":3.4,"thickness":0.7,"color":"#c4c4c4"},"encoding":{"x":{"field":"l","type":"quantitative"},"y":{"field":"lo","type":"quantitative"}}},
           {"data":{"name":"lasso"},"mark":{"type":"tick","orient":"horizontal","size":3.4,"thickness":0.7,"color":"#c4c4c4"},"encoding":{"x":{"field":"l","type":"quantitative"},"y":{"field":"hi","type":"quantitative"}}},
           {"data":{"name":"lasso"},"mark":{"type":"circle","color":"#ff0000","size":5,"opacity":1},"encoding":{"x":{"field":"l","type":"quantitative"},"y":{"field":"m","type":"quantitative"}}},
           {"data":{"values":[{"v":-3.31},{"v":-1.49}]},"mark":{"type":"rule","color":"#8a8a8a","strokeDash":[3,2],"strokeWidth":0.6},"encoding":{"x":{"field":"v","type":"quantitative"}}},
           {"data":{"name":"cnt"},"mark":{"type":"text","fontSize":5.5,"color":"#333","dy":-8},"encoding":{"x":{"field":"l","type":"quantitative"},"y":{"datum":11.6},"text":{"field":"n"}}}
          ]
         },
         {
          "spacing":1,
          "resolve":{"scale":{"size":"independent"},"legend":{"size":"independent"}},
          "concat":[
           {
            "width":140,"height":155,
            "layer":[
             {"data":{"values":[{"c":"Gene"},{"c":"P value"},{"c":"Hazard Ratio"},{"c":"95% CI"}]},
              "mark":{"type":"text","fontWeight":"bold","fontSize":7.5,"color":"black"},
              "encoding":{
               "x":{"field":"c","type":"nominal","scale":{"type":"point","domain":["Gene","P value","Hazard Ratio","95% CI"],"padding":0.25},"axis":null},
               "y":{"datum":"hdr","type":"nominal","scale":{"type":"point","domain":["hdr","AURKA","CAV1","PML"],"padding":0.634},"axis":null},
               "text":{"field":"c"}}},
             {"data":{"name":"forest"},"transform":[{"fold":["Gene","P value","Hazard Ratio","95% CI"],"as":["c","val"]}],
              "mark":{"type":"text","fontSize":7.5,"color":"black"},
              "encoding":{"x":{"field":"c","type":"nominal"},"y":{"field":"Gene","type":"nominal"},"text":{"field":"val"}}}
            ]
           },
           {
            "width":65,"height":155,
            "data":{"name":"forest"},
            "layer":[
             {"mark":{"type":"rule","color":"#555","strokeWidth":0.7},
              "encoding":{
               "x":{"field":"lo","type":"quantitative","title":"Hazard Ratio","scale":{"domain":[1,2.5],"nice":false,"zero":false},"axis":{"values":[1,1.5,2,2.5],"tickCount":20,"labelExpr":"toString(datum.value)","offset":-5,"labelFontSize":5.5,"labelColor":"#333","titleFontSize":5.5,"titlePadding":1,"labelPadding":2,"labelFlush":false,"labelOverlap":false}},
               "x2":{"field":"hi"},
               "y":{"field":"Gene","type":"nominal","scale":{"type":"point","domain":["hdr","AURKA","CAV1","PML"],"padding":0.634},"axis":null}}},
             {"mark":{"type":"tick","orient":"vertical","size":4,"thickness":0.7,"color":"#555"},"encoding":{"x":{"field":"lo","type":"quantitative","scale":{"domain":[1,2.5],"nice":false,"zero":false}},"y":{"field":"Gene","type":"nominal"}}},
             {"mark":{"type":"tick","orient":"vertical","size":4,"thickness":0.7,"color":"#555"},"encoding":{"x":{"field":"hi","type":"quantitative","scale":{"domain":[1,2.5],"nice":false,"zero":false}},"y":{"field":"Gene","type":"nominal"}}},
             {"mark":{"type":"square","filled":true,"color":"#34528E","opacity":1},"encoding":{"x":{"field":"hr","type":"quantitative","scale":{"domain":[1,2.5],"nice":false,"zero":false}},"y":{"field":"Gene","type":"nominal"},"size":{"field":"w","type":"quantitative","scale":{"domain":[0,125],"range":[0,49]},"legend":null}}}
            ]
           }
          ]
         }
        ]
       }
      ]
     }
    ]
   },
   {
    "spacing":6,
    "resolve":{"scale":{"color":"independent","strokeDash":"independent"},"legend":{"color":"independent","strokeDash":"independent"}},
    "concat":[
     {
      "columns":1,"spacing":0,
      "resolve":{"scale":{"color":"independent"},"legend":{"color":"independent"}},
      "concat":[
       {"width":1,"height":1,"data":{"values":[]},"mark":"point","title":{"text":"(D)","offset":8}},
       {
        "columns":1,"spacing":10,
        "resolve":{"scale":{"color":"independent"},"legend":{"color":"independent"}},
        "concat":[
         {
          "spacing":0,
          "concat":[
           {"width":1,"height":1,"data":{"values":[]},"mark":"point"},
           {
            "width":186,"height":98,
            "layer":[
             {"data":{"name":"km"},"mark":{"type":"line","interpolate":"step-after","strokeWidth":1},
              "encoding":{
               "x":{"field":"t","type":"quantitative","title":"Time (Years)","scale":{"domain":[-0.37,8.54],"nice":false,"zero":false},"axis":{"values":[0,1,2,3,4,5,6,7,8],"tickCount":20,"format":"d"}},
               "y":{"field":"S","type":"quantitative","title":"Survival probability","scale":{"domain":[-0.053,1.05],"nice":false,"zero":false},"axis":{"values":[0,0.25,0.5,0.75,1],"tickCount":20,"format":".2f"}},
               "color":{"field":"g","type":"nominal","scale":{"domain":["High risk","Low risk"],"range":["#E8383D","#2E2E9C"]},"legend":{"orient":"none","legendX":52,"legendY":-18,"direction":"horizontal","title":"Risk","titleOrient":"left","titleFontSize":7,"labelFontSize":7,"symbolType":"M-1,0H1M0,-0.6V0.6","symbolSize":64,"symbolStrokeWidth":1,"columnPadding":6,"labelOffset":3}},
               "order":{"field":"t"}}},
             {"data":{"name":"cens"},"mark":{"type":"point","shape":"M-1,0H1M0,-1V1","filled":false,"size":14,"strokeWidth":0.8,"opacity":1},
              "encoding":{"x":{"field":"t","type":"quantitative"},"y":{"field":"S","type":"quantitative"},"color":{"field":"g","type":"nominal"}}},
             {"data":{"values":[{"lab":"p = 0.00061"}]},"mark":{"type":"text","align":"left","fontSize":7.5,"color":"#222"},
              "encoding":{"x":{"datum":0.15},"y":{"datum":0.2},"text":{"field":"lab"}}}
            ]
           }
          ]
         },
         {
          "spacing":0,
          "concat":[
           {"width":1,"height":1,"data":{"values":[]},"mark":"point"},
           {
            "width":173,"height":15,
            "data":{"name":"rtab"},
            "mark":{"type":"text","fontSize":7.5,"color":"black"},
            "encoding":{
             "x":{"field":"t","type":"quantitative","title":"Time (Years)","scale":{"domain":[-0.26,8.57],"nice":false,"zero":false},"axis":{"values":[0,1,2,3,4,5,6,7,8],"tickCount":20,"format":"d"}},
             "y":{"field":"g","type":"nominal","title":"Risk","scale":{"domain":["High risk","Low risk"]},"axis":{"labelFontSize":7.5,"titlePadding":2,"labelColor":{"condition":{"test":"datum.value == 'High risk'","value":"#E8383D"},"value":"#2E2E9C"}}},
             "text":{"field":"n"}}
           }
          ]
         }
        ]
       }
      ]
     },
     {
      "width":190,"height":172,
      "title":{"text":"(E)","offset":8},
      "view":{"stroke":"#333","strokeWidth":0.8},
      "layer":[
       {"data":{"values":[{"x0":0,"y0":0,"x1":1,"y1":1}]},"mark":{"type":"rule","color":"#8c8c8c","strokeWidth":0.7},
        "encoding":{
         "x":{"field":"x0","type":"quantitative","title":"False Positive Rate","scale":{"domain":[-0.04,1.04],"nice":false,"zero":false},"axis":{"values":[0,0.2,0.4,0.6,0.8,1],"tickCount":20,"format":".1f","domain":false,"labelColor":"#222","labelFontSize":7,"titleFontSize":7.5,"labelPadding":2}},
         "y":{"field":"y0","type":"quantitative","title":"True Positive Rate","scale":{"domain":[-0.04,1.04],"nice":false,"zero":false},"axis":{"values":[0,0.2,0.4,0.6,0.8,1],"tickCount":20,"format":".1f","domain":false,"labelAngle":270,"labelAlign":"center","labelBaseline":"bottom","labelColor":"#222","labelFontSize":7,"titleFontSize":7.5,"labelPadding":2}},
         "x2":{"field":"x1"},"y2":{"field":"y1"}}},
       {"data":{"name":"roc"},"mark":{"type":"line","strokeWidth":1},
        "encoding":{
         "x":{"field":"fpr","type":"quantitative","scale":{"domain":[-0.04,1.04],"nice":false,"zero":false}},
         "y":{"field":"tpr","type":"quantitative","scale":{"domain":[-0.04,1.04],"nice":false,"zero":false}},
         "color":{"field":"c","type":"nominal","scale":{"domain":["AUC 1 year = 0.74","AUC 2 year = 0.67","AUC 3 year = 0.71"],"range":["#222222","#8E44AD","#F0607A"]},"legend":{"orient":"bottom-right","offset":0,"title":null,"strokeColor":"#333","fillColor":"white","padding":5,"labelFontSize":7,"labelColor":"#222","symbolType":"stroke","symbolSize":300,"symbolStrokeWidth":1,"rowPadding":1,"labelOffset":4,"labelLimit":200}},
         "strokeDash":{"field":"c","type":"nominal","scale":{"domain":["AUC 1 year = 0.74","AUC 2 year = 0.67","AUC 3 year = 0.71"],"range":[[1,0],[5,3],[1.2,1.8]]},"legend":{"orient":"bottom-right","offset":0,"title":null,"strokeColor":"#333","fillColor":"white","padding":5,"labelFontSize":7,"labelColor":"#222","symbolType":"stroke","symbolSize":300,"symbolStrokeWidth":1,"rowPadding":1,"labelOffset":4,"labelLimit":200}},
         "order":[{"field":"fpr"},{"field":"tpr"}]}}
      ]
     }
    ]
   }
  ]
 },
 {
  "columns":1,"spacing":1,
  "resolve":{"scale":{"color":"independent"},"legend":{"color":"independent"}},
  "concat":[
   {
    "spacing":7,
    "resolve":{"scale":{"color":"independent"},"legend":{"color":"independent"}},
    "concat":[
     {"width":1,"height":1,"data":{"values":[]},"mark":"point","title":{"text":"(C)","offset":0,"dy":6,"dx":-8}},
     {
      "columns":1,"spacing":5,
      "resolve":{"scale":{"color":"independent"},"legend":{"color":"independent"}},
      "concat":[
       {
        "width":132,"height":138,
        "data":{"name":"pt"},
        "mark":{"type":"circle","size":3,"opacity":1},
        "encoding":{
         "x":{"field":"i","type":"quantitative","title":"Patients","scale":{"domain":[-2.9,185.7],"nice":false,"zero":false},"axis":{"values":[0,50,100,150],"tickCount":20,"format":"d"}},
         "y":{"field":"r","type":"quantitative","title":"Risk score","scale":{"domain":[8.78,12.62],"nice":false,"zero":false},"axis":{"values":[9,10,11,12],"tickCount":20,"format":"d"}},
         "color":{"field":"k","type":"nominal","scale":{"domain":["L","H"],"range":["#4B63E6","#F25C2A"]},"legend":null}
        }
       },
       {
        "width":132,"height":117,
        "data":{"name":"pt"},
        "mark":{"type":"circle","size":3,"opacity":1},
        "encoding":{
         "x":{"field":"i","type":"quantitative","title":"Patients","scale":{"domain":[-11.8,182.4],"nice":false,"zero":false},"axis":{"values":[0,50,100,150],"tickCount":20,"format":"d"}},
         "y":{"field":"t","type":"quantitative","title":"Overall survival (days)","scale":{"domain":[-137,2887],"nice":false,"zero":false},"axis":{"values":[0,1000,2000],"tickCount":20,"format":"d"}},
         "color":{"field":"s","type":"nominal","scale":{"domain":["Alive","Dead"],"range":["#4B63E6","#F25C2A"]},"legend":{"orient":"none","legendX":35,"legendY":-17,"direction":"horizontal","title":null,"labelFontSize":6.5,"symbolSize":8,"symbolType":"circle","columnPadding":10,"labelOffset":3}}
        }
       }
      ]
     }
    ]
   },
   {
    "spacing":0,
    "resolve":{"scale":{"color":"independent"},"legend":{"color":"independent"}},
    "concat":[
     {
      "width":11,"height":159,
      "data":{"name":"dend"},
      "mark":{"type":"rule","color":"#a6a6a6","strokeWidth":0.8},
      "encoding":{
       "x":{"field":"a","type":"quantitative","scale":{"domain":[1,0],"nice":false,"zero":false},"axis":null},
       "x2":{"field":"b"},
       "y":{"field":"c","type":"quantitative","scale":{"domain":[3,0],"nice":false,"zero":false},"axis":null},
       "y2":{"field":"d"}
      }
     },
     {
      "width":150,"height":159,
      "data":{"name":"pt"},
      "transform":[{"fold":["PML","AURKA","CAV1"],"as":["gene","v"]}],
      "mark":{"type":"rect","strokeWidth":0},
      "encoding":{
       "x":{"field":"i","type":"ordinal","scale":{"paddingInner":0,"paddingOuter":0},"axis":null},
       "y":{"field":"gene","type":"nominal","scale":{"domain":["PML","AURKA","CAV1"],"paddingInner":0,"paddingOuter":0},"axis":{"orient":"right","title":null,"domain":false,"ticks":false,"labelFontSize":7,"labelPadding":2,"labelColor":"black"}},
       "color":{"field":"v","type":"quantitative","scale":{"domain":[-4,0,4],"range":["#0000ff","#ffffff","#ff0000"],"interpolate":"rgb"},"legend":{"orient":"none","legendX":175,"legendY":60,"direction":"vertical","gradientLength":39,"gradientThickness":9,"title":null,"values":[-4,-2,0,2,4],"labelOverlap":false,"labelFontSize":7,"labelColor":"black","labelOffset":2}}
      }
     }
    ]
   }
  ]
 }
]
}
